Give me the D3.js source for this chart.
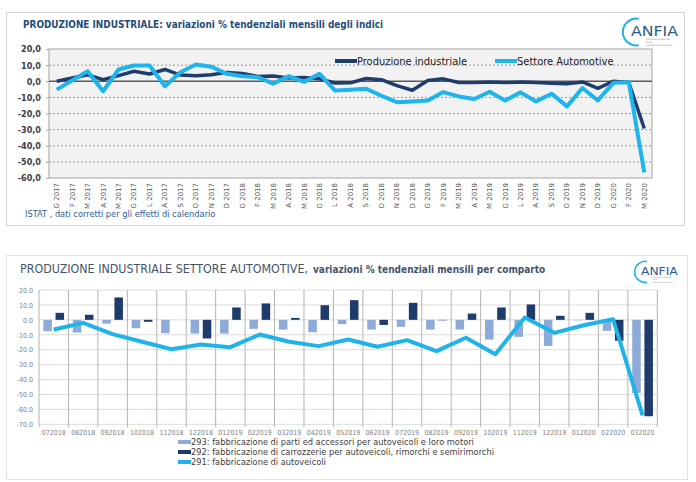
<!DOCTYPE html>
<html>
<head>
<meta charset="utf-8">
<script src="https://cdn.jsdelivr.net/npm/d3@7"></script>
<style>
  body { margin: 0; background: #fff; }
  svg { font-family: "DejaVu Sans Condensed", "DejaVu Sans", sans-serif; }
</style>
</head>
<body>
<svg id="chart" width="696" height="482"></svg>
<script>
// --- top chart data (Jan 2017 - Mar 2020)
const monthLabels = [
  'G 2017','F 2017','M 2017','A 2017','M 2017','G 2017','L 2017','A 2017','S 2017','O 2017','N 2017','D 2017',
  'G 2018','F 2018','M 2018','A 2018','M 2018','G 2018','L 2018','A 2018','S 2018','O 2018','N 2018','D 2018',
  'G 2019','F 2019','M 2019','A 2019','M 2019','G 2019','L 2019','A 2019','S 2019','O 2019','N 2019','D 2019',
  'G 2020','F 2020','M 2020'
];
const produzione = [
  0, 2, 4, 1, 3.5, 6.2, 4.5, 7.3, 3.8, 3.4, 4, 5.5,
  4.8, 3, 3.3, 2, 2.3, 1.5, -1.1, -1, 1.7, 1, -2.7, -5.6,
  0.4, 1.5, -0.8, -0.8, -0.4, -0.8, -0.4, -0.8, -1.2, -1.5, -0.4, -4.4,
  0, -0.8, -29.3
];
const automotive = [
  -5.2, 0.5, 6.2, -6.2, 7.3, 9.8, 9.8, -3.1, 5.6, 10.4, 9, 4.6,
  3.1, 2.5, -1.5, 3.1, -0.4, 4.6, -5.8, -5.2, -4.6, -9, -13, -12.5,
  -12, -6.7, -9.4, -11, -6.5, -12, -6.9, -12.5, -7.7, -15.6, -4.2, -11.9,
  -1, -0.6, -56.5
];
const yTicksTop = [20, 10, 0, -10, -20, -30, -40, -50, -60];

// --- bottom chart data (Jul 2018 - Mar 2020)
const comparti = [
  '072018','082018','092018','102018','112018','122018','012019','022019','032019','042019','052019',
  '062019','072019','082019','092019','102019','112019','122019','012020','022020','032020'
];
const val293 = [-7.6, -8.5, -2.5, -5.6, -9, -9.2, -9.2, -6, -6.5, -8.3, -2.9, -6.5, -4.7, -6.5, -6.5, -13.2, -11.4, -17.5, -0.3, -7.4, -49];
const val292 = [4.7, 3.4, 15, -1.3, 0, -12.5, 8.3, 11, 1.3, 9.8, 13.2, -3.4, 11.4, -0.3, 4.2, 8.3, 10.3, 2.7, 4.7, -14, -64.6];
const val291 = [-6.5, -2, -9.6, -14.7, -19.7, -16.5, -18.3, -9.8, -14.7, -17.6, -13.2, -18, -13.6, -21, -12, -23, 1.6, -8.7, -3.6, 0.4, -64];
const yTicksBottom = [20, 10, 0, -10, -20, -30, -40, -50, -60, -70];
const legendBottom = [
  '293: fabbricazione di parti ed accessori per autoveicoli e loro motori',
  '292: fabbricazione di carrozzerie per autoveicoli, rimorchi e semirimorchi',
  '291: fabbricazione di autoveicoli'
];

const svg = d3.select('#chart');

function drawLogo(g) {
  // simplified ANFIA mark: open arc + lettering
  g.append('path')
    .attr('d', 'M7.7,-17.3 A13.5,13.5 0 1,0 7.7,9.3')
    .attr('fill', 'none').attr('stroke', '#1fb0e6').attr('stroke-width', 2);
  g.append('text').attr('x', 0).attr('y', 0)
    .attr('font-size', 13.5).attr('fill', '#2d5a8c')
    .attr('textLength', 47).attr('lengthAdjust', 'spacingAndGlyphs')
    .text('ANFIA');
  ['Associazione Nazionale', 'Filiera', 'Industria Automobilistica'].forEach((t, i) => {
    g.append('text').attr('x', 15).attr('y', 4 + i * 3)
      .attr('font-size', 2.3).attr('fill', '#7a8aa0').text(t);
  });
}

// ================= TOP CHART =================
svg.append('rect').attr('x', 6.5).attr('y', 12.5).attr('width', 678).attr('height', 213)
  .attr('fill', '#fff').attr('stroke', '#d4d4d4');

svg.append('text').attr('x', 23).attr('y', 28)
  .attr('font-size', 11).attr('font-weight', 'bold').attr('fill', '#1f4e79')
  .attr('textLength', 360).attr('lengthAdjust', 'spacingAndGlyphs')
  .text('PRODUZIONE INDUSTRIALE: variazioni % tendenziali mensili degli indici');

drawLogo(svg.append('g').attr('transform', 'translate(631,36)'));

const plotTop = { left: 49, right: 652, top: 49, bottom: 178 };
const xTop = d3.scaleBand().domain(d3.range(monthLabels.length)).range([plotTop.left, plotTop.right]);
const yTop = d3.scaleLinear().domain([-60, 20]).range([plotTop.bottom, plotTop.top]);

svg.append('rect').attr('x', plotTop.left).attr('y', plotTop.top)
  .attr('width', plotTop.right - plotTop.left).attr('height', plotTop.bottom - plotTop.top)
  .attr('fill', '#f2f2f2').attr('stroke', '#a6a6a6');

svg.append('g').selectAll('line').data(yTicksTop.filter(d => d !== 0 && d !== 20 && d !== -60)).enter()
  .append('line')
  .attr('x1', plotTop.left).attr('x2', plotTop.right)
  .attr('y1', d => yTop(d)).attr('y2', d => yTop(d))
  .attr('stroke', '#9a9a9a').attr('stroke-dasharray', '2,2');
svg.append('line').attr('x1', plotTop.left).attr('x2', plotTop.right)
  .attr('y1', yTop(0)).attr('y2', yTop(0))
  .attr('stroke', '#595959').attr('stroke-width', 1.6);

const yAxisTop = svg.append('g').attr('transform', 'translate(' + plotTop.left + ',0)')
  .call(d3.axisLeft(yTop).tickValues(yTicksTop).tickSize(3).tickPadding(5)
    .tickFormat(d => d.toFixed(1).replace('.', ',')));
yAxisTop.select('.domain').remove();
yAxisTop.selectAll('line').attr('stroke', '#a6a6a6');
yAxisTop.selectAll('text').attr('font-size', 9).attr('font-weight', 'bold').attr('fill', '#404040')
  .attr('font-family', '"DejaVu Sans Condensed", sans-serif');

const xAxisTop = svg.append('g').attr('transform', 'translate(0,' + plotTop.bottom + ')')
  .call(d3.axisBottom(xTop).tickSize(0).tickFormat(i => monthLabels[i]));
xAxisTop.select('.domain').remove();
xAxisTop.selectAll('text')
  .attr('transform', 'rotate(-90)')
  .attr('text-anchor', 'end')
  .attr('x', -5).attr('y', 0).attr('dy', '0.35em')
  .attr('font-size', 7).attr('fill', '#595959')
  .attr('font-family', '"DejaVu Sans", sans-serif');

const lineTop = data => d3.line()
  .x((d, i) => xTop(i) + xTop.bandwidth() / 2)
  .y(d => yTop(d))(data);

svg.append('path').attr('d', lineTop(produzione))
  .attr('fill', 'none').attr('stroke', '#1f3c6e').attr('stroke-width', 3.5).attr('stroke-linejoin', 'round');
svg.append('path').attr('d', lineTop(automotive))
  .attr('fill', 'none').attr('stroke', '#1eb4ec').attr('stroke-width', 4).attr('stroke-linejoin', 'round');

// legend top
const legTop = [
  { label: 'Produzione industriale', color: '#1f3c6e', x: 335 },
  { label: 'Settore Automotive', color: '#1eb4ec', x: 495 }
];
legTop.forEach(l => {
  svg.append('line').attr('x1', l.x).attr('x2', l.x + 22).attr('y1', 61).attr('y2', 61)
    .attr('stroke', l.color).attr('stroke-width', 4);
  svg.append('text').attr('x', l.x + 22).attr('y', 65)
    .attr('font-size', 11).attr('fill', '#1a1a1a').text(l.label);
});

svg.append('text').attr('x', 25).attr('y', 217)
  .attr('font-size', 9.2).attr('fill', '#2f6096')
  .text('ISTAT , dati corretti per gli effetti di calendario');

// ================= BOTTOM CHART =================
svg.append('rect').attr('x', 6.5).attr('y', 255.5).attr('width', 681).attr('height', 224)
  .attr('fill', '#fff').attr('stroke', '#e2e2e2');

const title2 = svg.append('text').attr('x', 20).attr('y', 273).attr('fill', '#44546a');
title2.append('tspan').attr('font-size', 13)
  .attr('textLength', 288).attr('lengthAdjust', 'spacingAndGlyphs')
  .text('PRODUZIONE INDUSTRIALE SETTORE AUTOMOTIVE,');
title2.append('tspan').attr('dx', 5).attr('font-size', 10).attr('font-weight', 'bold')
  .text('variazioni % tendenziali mensili per comparto');

drawLogo(svg.append('g').attr('transform', 'translate(641,275) scale(0.78)'));

const plotBot = { left: 39, right: 657.3, top: 290, bottom: 424.3 };
const xBot = d3.scaleBand().domain(comparti).range([plotBot.left, plotBot.right]);
const xSub = d3.scaleBand().domain(['293', '292']).range([0, xBot.bandwidth()])
  .paddingInner(0.3).paddingOuter(0.36);
const yBot = d3.scaleLinear().domain([-70, 20]).range([plotBot.bottom, plotBot.top]);

svg.append('g').selectAll('line').data(yTicksBottom).enter().append('line')
  .attr('x1', plotBot.left).attr('x2', plotBot.right)
  .attr('y1', d => yBot(d)).attr('y2', d => yBot(d))
  .attr('stroke', '#dcdcdc');

svg.append('g').selectAll('line').data(comparti.concat(['end'])).enter().append('line')
  .attr('x1', d => d === 'end' ? plotBot.right : xBot(d))
  .attr('x2', d => d === 'end' ? plotBot.right : xBot(d))
  .attr('y1', plotBot.top).attr('y2', plotBot.bottom + 3)
  .attr('stroke', '#b4b4b4');

const yAxisBot = svg.append('g').attr('transform', 'translate(' + (plotBot.left - 6) + ',0)')
  .call(d3.axisLeft(yBot).tickValues(yTicksBottom).tickSize(0).tickPadding(0)
    .tickFormat(d => d.toFixed(1)));
yAxisBot.select('.domain').remove();
yAxisBot.selectAll('text').attr('font-size', 7).attr('fill', '#7f7f7f')
  .attr('font-family', '"DejaVu Sans Condensed", sans-serif');

const xAxisBot = svg.append('g').attr('transform', 'translate(0,' + (plotBot.bottom + 3) + ')')
  .call(d3.axisBottom(xBot).tickSize(0).tickPadding(3));
xAxisBot.select('.domain').remove();
xAxisBot.selectAll('text').attr('font-size', 7).attr('fill', '#7f7f7f')
  .attr('font-family', '"DejaVu Sans Condensed", sans-serif');

const series = [
  { key: '293', values: val293, color: '#8eaad8' },
  { key: '292', values: val292, color: '#1f3b6b' }
];
series.forEach(s => {
  svg.append('g').selectAll('rect').data(s.values).enter().append('rect')
    .attr('x', (d, i) => xBot(comparti[i]) + xSub(s.key))
    .attr('width', xSub.bandwidth())
    .attr('y', d => yBot(Math.max(0, d)))
    .attr('height', d => Math.abs(yBot(d) - yBot(0)))
    .attr('fill', s.color);
});

svg.append('path')
  .attr('d', d3.line()
    .x((d, i) => xBot(comparti[i]) + xBot.bandwidth() / 2)
    .y(d => yBot(d))(val291))
  .attr('fill', 'none').attr('stroke', '#1fb3ea').attr('stroke-width', 4).attr('stroke-linejoin', 'round');

// legend bottom
const legColors = ['#8eaad8', '#1f3b6b', '#1fb3ea'];
legendBottom.forEach((t, i) => {
  const y = 442 + i * 10;
  svg.append('line').attr('x1', 178).attr('x2', 191).attr('y1', y).attr('y2', y)
    .attr('stroke', legColors[i]).attr('stroke-width', 4);
  svg.append('text').attr('x', 191).attr('y', y + 3.2)
    .attr('font-size', 9.2).attr('fill', '#404040').text(t);
});
</script>
</body>
</html>
